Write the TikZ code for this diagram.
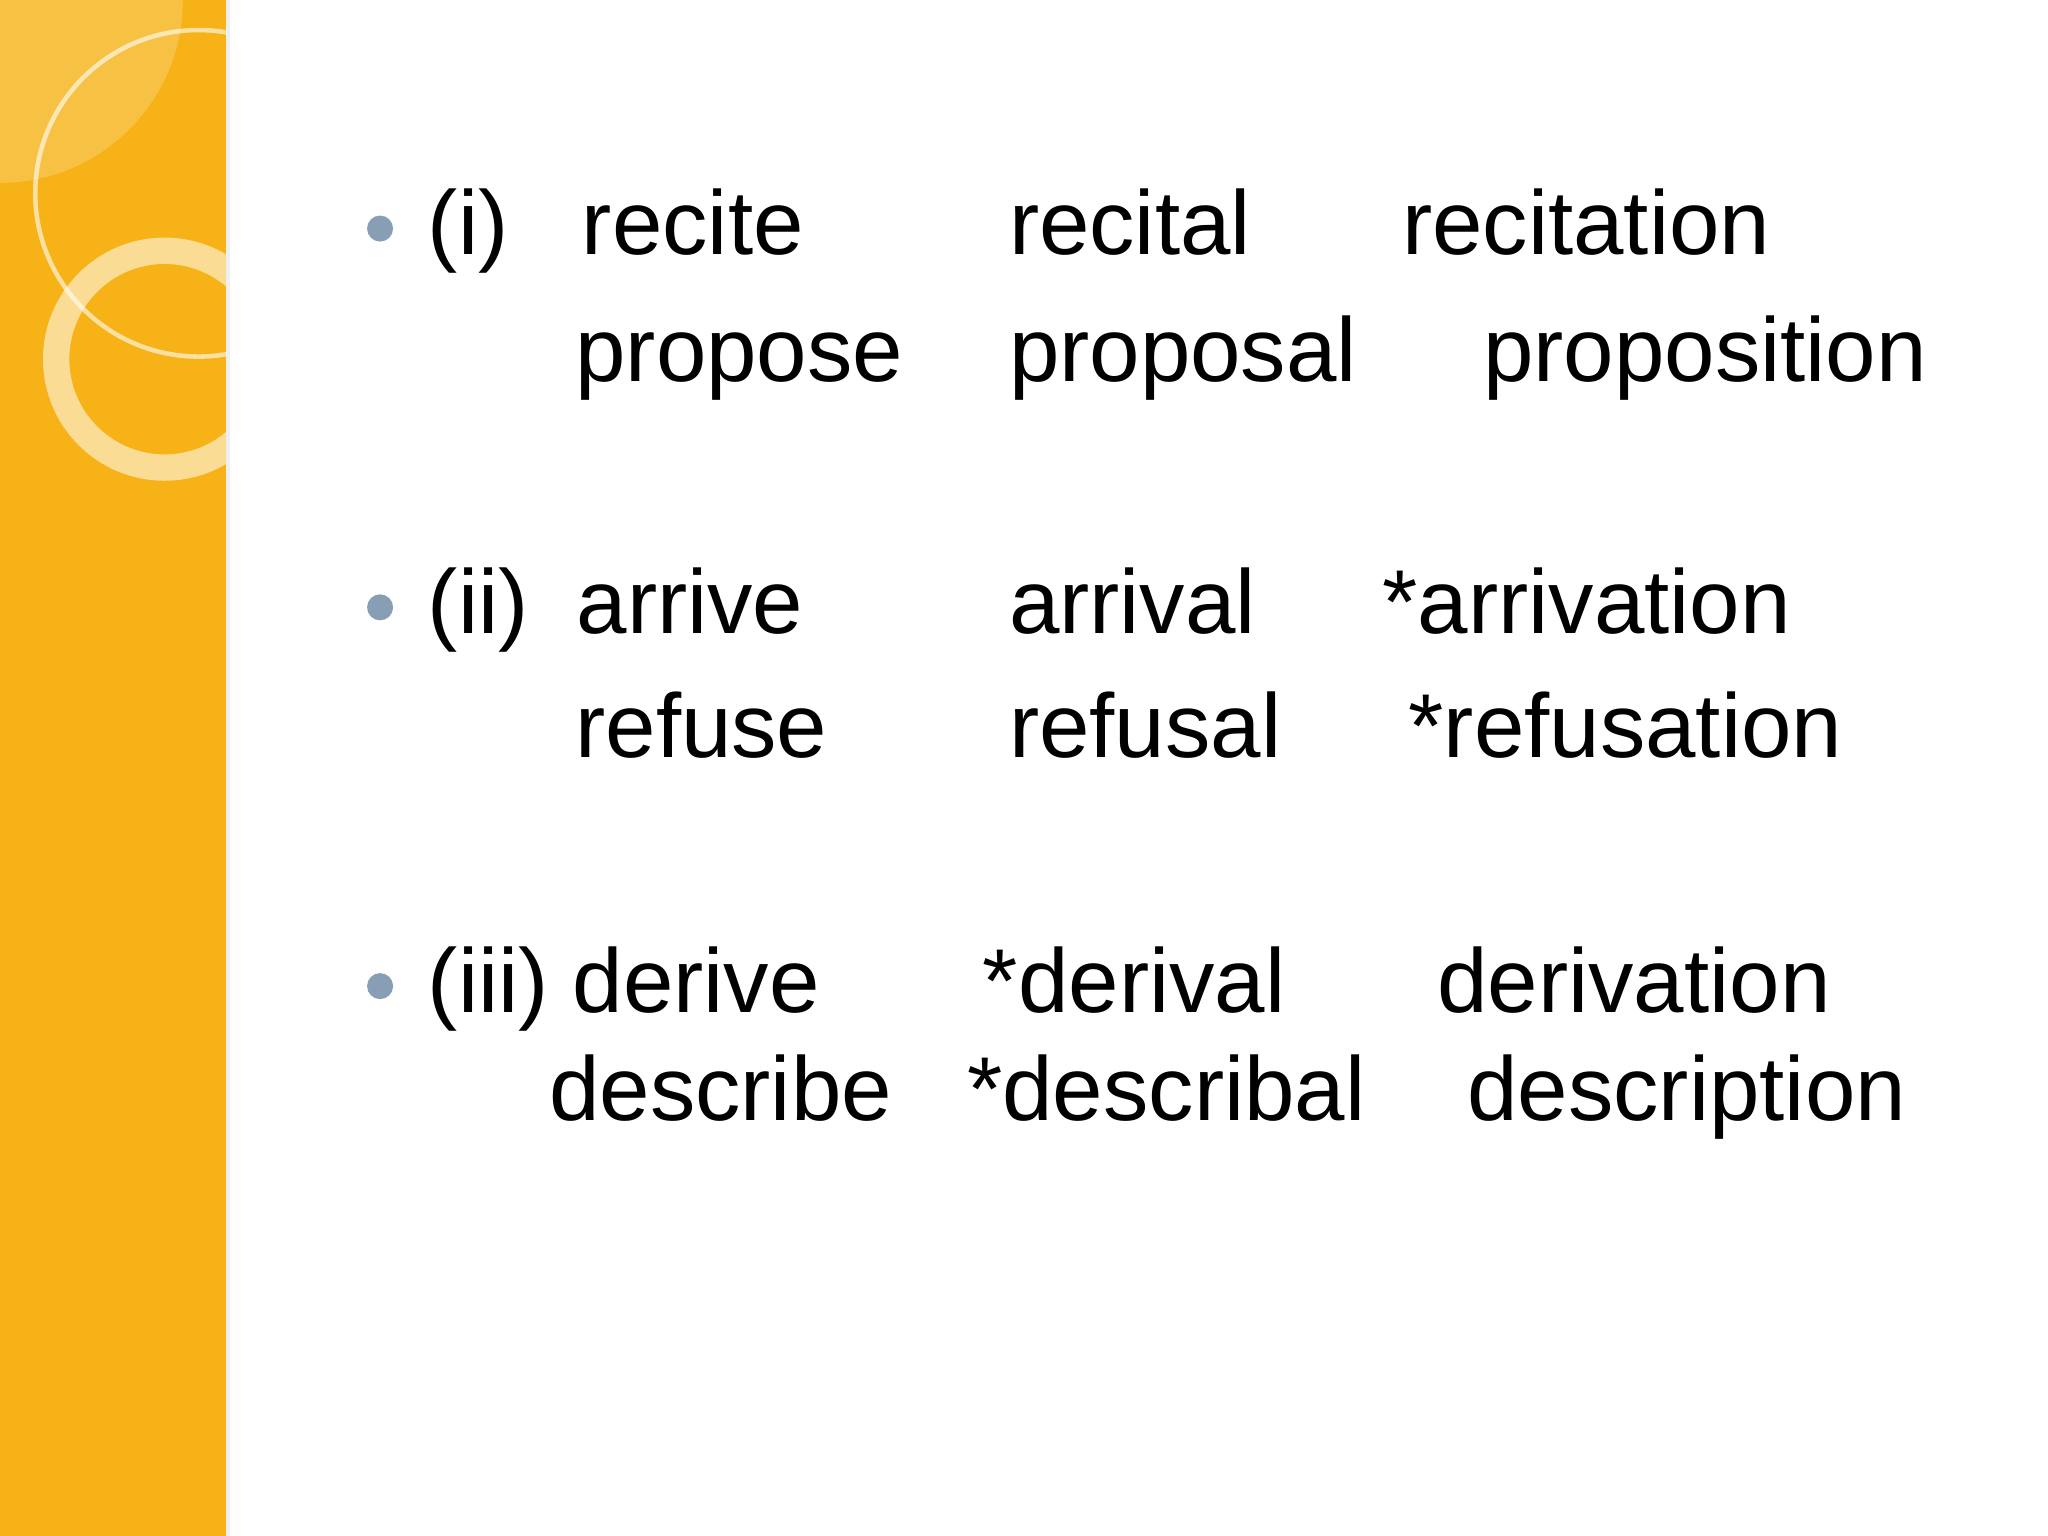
\documentclass[tikz,border=0pt]{standalone}
\usepackage{fontspec}
\setmainfont{Liberation Sans}
\definecolor{band}{RGB}{246,178,22}
\definecolor{bul}{RGB}{135,158,180}
\begin{document}
\begin{tikzpicture}[x=0.01306cm,y=-0.01306cm,
  w/.style={anchor=base west,inner sep=0pt,font=\fontsize{25.8}{30}\selectfont},
  bl/.style={circle,fill=bul,inner sep=0pt,minimum size=7.4pt}]
\useasboundingbox (0,0) rectangle (1568,1176);
\fill[white] (0,0) rectangle (1568,1176);
\fill[band] (0,0) rectangle (173,1176);
\fill[black!12,opacity=0.5] (173,0) rectangle (176,1176);
\begin{scope}
\clip (0,0) rectangle (173,1176);
\fill[white,opacity=0.2] (0,0) circle[radius=140];
\draw[white,opacity=0.6,line width=1.3pt] (152,148) circle[radius=125];
\draw[white,opacity=0.55,line width=7.5pt] (126,275) circle[radius=83];
\end{scope}
\node[bl] (b1) at (291,175) {};
\node[bl] (b2) at (291,465) {};
\node[bl] (b3) at (291,755) {};
\node[w] (n1) at (327,195) {(i)};
\node[w] (a1) at (445,195) {recite};
\node[w] (a2) at (772,195) {recital};
\node[w] (a3) at (1073,195) {recitation};
\node[w] (c1) at (440,292) {propose};
\node[w] (c2) at (772,292) {proposal};
\node[w] (c3) at (1135,292) {proposition};
\node[w] (n2) at (327,485) {(ii)};
\node[w] (d1) at (441,485) {arrive};
\node[w] (d2) at (772,485) {arrival};
\node[w] (d3) at (1058,485) {*arrivation};
\node[w] (e1) at (440,580) {refuse};
\node[w] (e2) at (772,580) {refusal};
\node[w] (e3) at (1078,580) {*refusation};
\node[w] (n3) at (327,775) {(iii)};
\node[w] (f1) at (438,775) {derive};
\node[w] (f2) at (752,775) {*derival};
\node[w] (f3) at (1100,775) {derivation};
\node[w] (g1) at (420,858) {describe};
\node[w] (g2) at (740,858) {*describal};
\node[w] (g3) at (1123,858) {description};
\end{tikzpicture}
\end{document}
